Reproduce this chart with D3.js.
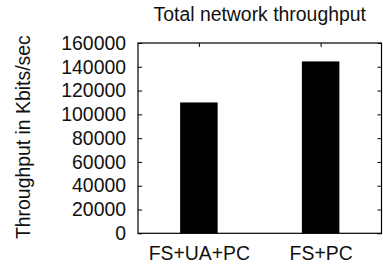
<!DOCTYPE html>
<html>
<head>
<meta charset="utf-8">
<script src="https://cdn.jsdelivr.net/npm/d3@7"></script>
<style>
  body { margin: 0; background: #fff; }
  text { font-family: "Liberation Sans", Arial, sans-serif; fill: #111; }
</style>
</head>
<body>
<div id="chart"></div>
<script>
const categories = ["FS+UA+PC", "FS+PC"];
const throughput = [110000, 144500];
const y_ticks = [0, 20000, 40000, 60000, 80000, 100000, 120000, 140000, 160000];
const title = "Total network throughput";
const y_label = "Throughput in Kbits/sec";

const margins = { top: 43, right: 1.5, bottom: 33.7, left: 138 };
const W = 383, H = 267;
const width = W - margins.left - margins.right;
const height = H - margins.top - margins.bottom;
const fs = "19.4px";

const x_scale = d3.scalePoint().domain(categories).range([0, width]).padding(0.5);
const y_scale = d3.scaleLinear().domain([0, 160000]).range([height, 0]);
const bar_w = x_scale.step() * 0.308;

const svg = d3.select("#chart").append("svg")
	.attr("width", W)
	.attr("height", H);

const g = svg.append("g")
	.attr("transform", "translate(" + margins.left + "," + margins.top + ")");

// bars
g.selectAll("rect.bar")
	.data(throughput)
	.enter().append("rect")
	.attr("class", "bar")
	.attr("x", (d, i) => x_scale(categories[i]) - bar_w / 2)
	.attr("y", d => y_scale(d))
	.attr("width", bar_w)
	.attr("height", d => height - y_scale(d))
	.attr("fill", "#000");

// y axis labels + inward ticks (left and mirrored right)
const y_axis = d3.axisLeft(y_scale).tickValues(y_ticks).tickSize(-4).tickPadding(12).tickFormat(d3.format("d"));
const ya = g.append("g").attr("class", "y axis").call(y_axis);
ya.select(".domain").remove();
ya.selectAll("text").style("font-size", fs);

const y_right = d3.axisRight(y_scale).tickValues(y_ticks).tickSize(-4).tickFormat("");
const yr = g.append("g").attr("transform", "translate(" + width + ",0)").call(y_right);
yr.select(".domain").remove();

// x ticks at top, labels at bottom
const x_top = d3.axisTop(x_scale).tickSize(-4).tickFormat("");
const xt = g.append("g").call(x_top);
xt.select(".domain").remove();

const x_axis = d3.axisBottom(x_scale).tickSize(0).tickPadding(13);
const xa = g.append("g").attr("transform", "translate(0," + height + ")").call(x_axis);
xa.select(".domain").remove();
xa.selectAll("text").style("font-size", fs);

// frame
g.append("rect")
	.attr("x", 0).attr("y", 0)
	.attr("width", width).attr("height", height)
	.attr("fill", "none")
	.attr("stroke", "#000")
	.attr("stroke-width", 1.2);

// title
svg.append("text")
	.attr("x", margins.left + width / 2)
	.attr("y", 20.5)
	.attr("text-anchor", "middle")
	.style("font-size", fs)
	.text(title);

// y label
svg.append("text")
	.attr("transform", "translate(30," + (margins.top + height / 2 - 1) + ") rotate(-90)")
	.attr("text-anchor", "middle")
	.style("font-size", fs)
	.text(y_label);
</script>
</body>
</html>
